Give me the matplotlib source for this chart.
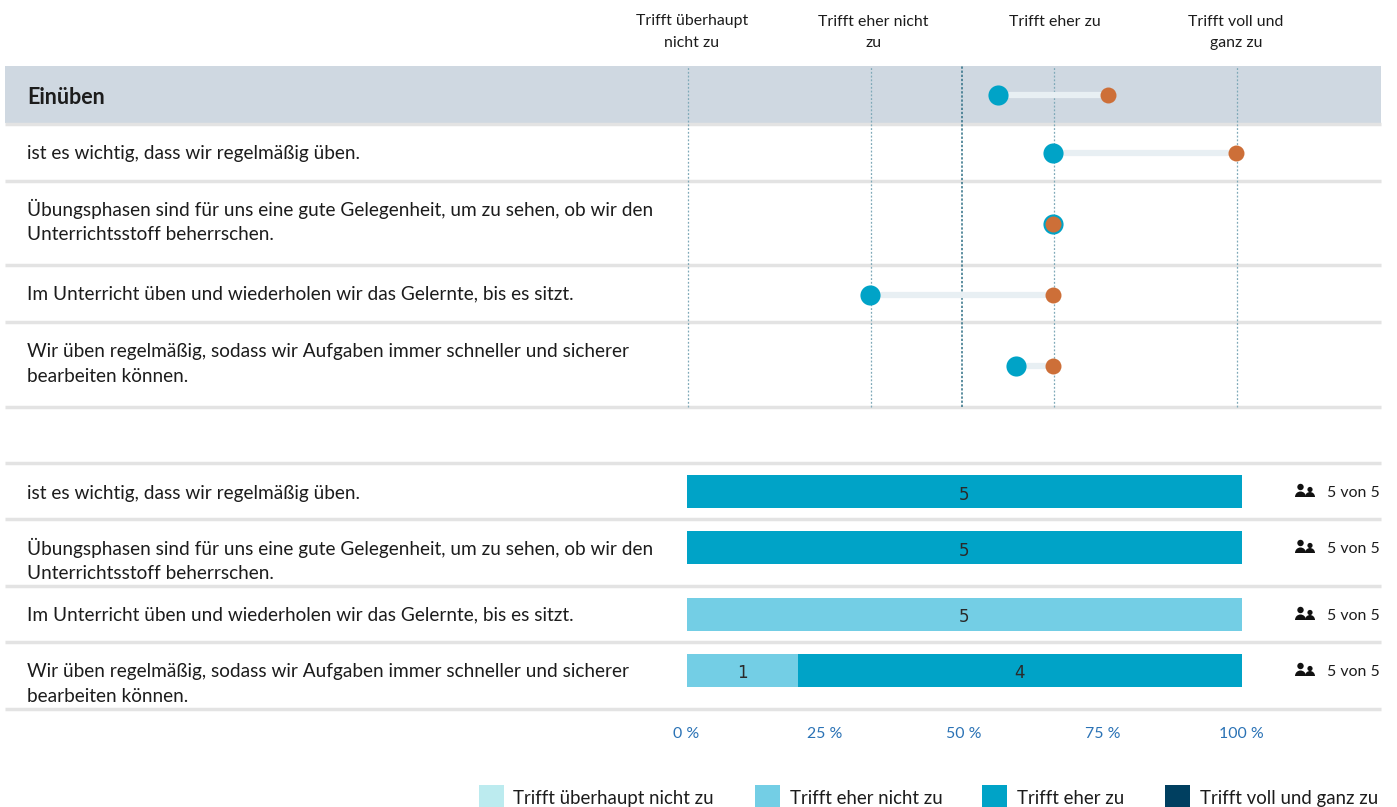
import matplotlib
matplotlib.use('Agg')
import matplotlib.pyplot as plt
import matplotlib.transforms as mtransforms
from matplotlib.patches import Circle, Rectangle, Wedge
import numpy as np

plt.rcParams['font.family'] = ['Lato', 'DejaVu Sans']

# data
scale_labels = ['Trifft überhaupt nicht zu', 'Trifft eher nicht zu', 'Trifft eher zu', 'Trifft voll und ganz zu']
scale_head = ['Trifft überhaupt\nnicht zu', 'Trifft eher nicht\nzu', 'Trifft eher zu', 'Trifft voll und\nganz zu']
section = 'Einüben'
items = ['ist es wichtig, dass wir regelmäßig üben.',
         'Übungsphasen sind für uns eine gute Gelegenheit, um zu sehen, ob wir den\nUnterrichtsstoff beherrschen.',
         'Im Unterricht üben und wiederholen wir das Gelernte, bis es sitzt.',
         'Wir üben regelmäßig, sodass wir Aufgaben immer schneller und sicherer\nbearbeiten können.']
blue_vals = [2.7, 3.0, 3.0, 2.0, 2.8]     # section mean first
orange_vals = [3.3, 4.0, 3.0, 3.0, 3.0]
counts = [[0, 0, 5, 0],
          [0, 0, 5, 0],
          [0, 5, 0, 0],
          [0, 1, 4, 0]]
answered = [5, 5, 5, 5]
pct_ticks = [0, 25, 50, 75, 100]

# colours
scale_colors = ['#bcebef', '#73cee5', '#00a3c7', '#003f60']
blue = '#00a3c7'
orange = '#cd6f38'
txt = '#1c1c1c'
rule = '#e3e3e3'

W, H = 1397, 807
fig = plt.figure(figsize=(W / 100, H / 100), dpi=100)

# background layer in pixels, for rows, rules and texts
bg = fig.add_axes([0, 0, 1, 1])
bg.set_xlim(0, W)
bg.set_ylim(H, 0)
bg.axis('off')

def sub_axes(x0, x1, y0, y1):
    a = fig.add_axes([x0 / W, 1 - y1 / H, (x1 - x0) / W, (y1 - y0) / H])
    a.patch.set_alpha(0)
    a.axis('off')
    return a

# top rows
bg.add_patch(Rectangle((5, 66), 1376, 57, color='#cfd8e1', lw=0))
for y in [124, 181, 265, 322, 407]:
    bg.plot([5, 1381], [y, y], color=rule, lw=2.5, solid_capstyle='butt')
for y in [463, 519, 586, 642, 709]:
    bg.plot([5, 1381], [y, y], color=rule, lw=2.5, solid_capstyle='butt')

bg.text(27, 97, section, fontsize=15.5, fontweight='bold', color=txt, va='center')
top_y = [153, 221, 294, 364]
bot_y = [493, 560, 615, 684]
for t, y in zip(items, top_y):
    bg.text(27, y, t, fontsize=13.7, color=txt, va='center', linespacing=1.52)
for t, y in zip(items, bot_y):
    bg.text(27, y, t, fontsize=13.7, color=txt, va='center', linespacing=1.52)

for t, x in zip(scale_head, [692, 873.5, 1054.5, 1236]):
    bg.text(x, 14.5, t, fontsize=11.4, color=txt, ha='center', va='top', linespacing=1.72)

# dumbbell panel, x axis is the answer scale 1..4
dot = sub_axes(688, 1237, 66, 407)
dot.set_xlim(1, 4)
dot.set_ylim(407, 66)
dot_y = [95, 153, 224, 295, 366]
for v in [1, 2, 3, 4]:
    dot.axvline(v, color='#7fa9b8', lw=0.9, ls=(0, (1.5, 1.5)), clip_on=False)
dot.axvline(2.5, color='#2f6f85', lw=1.1, ls=(0, (1.5, 1.2)))
# marks sit one pixel left of the grid lines
nudged = mtransforms.offset_copy(dot.transData, fig=fig, x=-1, y=0, units='dots')
for b, o, y in zip(blue_vals, orange_vals, dot_y):
    if o - b > 0:
        dot.plot([b + 0.065, o - 0.045], [y, y], color='#e8eff3', lw=4.5, solid_capstyle='round',
                 zorder=2, transform=nudged)
    dot.plot(b, y, 'o', color=blue, ms=14.5, mew=0, zorder=3, clip_on=False, transform=nudged)
    dot.plot(o, y, 'o', color=orange, ms=11.5, mew=0, zorder=4, clip_on=False, transform=nudged)

# stacked bars
bars = sub_axes(687, 1242, 463, 709)
bars.set_xlim(0, 100)
bars.set_ylim(709, 463)
bar_y = [491, 547, 614, 670]
for row, y in zip(counts, bar_y):
    total = sum(row)
    left = 0
    for c, col in zip(row, scale_colors):
        if c == 0:
            continue
        w = 100 * c / total
        bars.barh(y, w, left=left, height=33, color=col, lw=0)
        bars.text(left + w / 2 - 0.1, y + 3.5, str(c), ha='center', va='center', fontsize=12, color='#2a2a2a',
                  family='DejaVu Sans')
        left += w
for p in pct_ticks:
    bars.text(p - 0.15, 734.5, '%d %%' % p, ha='center', va='center', fontsize=11.4, color='#2a72b5', clip_on=False)

# respondents, icon plus count
for n, row, y in zip(answered, counts, bar_y):
    bg.add_patch(Circle((1300.5, y - 4), 3.2, color='#111111', lw=0))
    bg.add_patch(Wedge((1300.5, y + 6), 5.5, 180, 360, color='#111111', lw=0))
    bg.add_patch(Circle((1310, y - 1.5), 2.6, color='#111111', lw=0))
    bg.add_patch(Wedge((1310, y + 6), 5, 180, 360, color='#111111', lw=0))
    bg.text(1380, y + 2, '%d von %d' % (sum(row), n), fontsize=11.4, color=txt, ha='right', va='center')

# legend, cut at the lower edge as in the page
for t, c, px, tx in zip(scale_labels, scale_colors, [479, 755, 982, 1165], [513, 790, 1017, 1200]):
    bg.add_patch(Rectangle((px, 785), 25, 24, color=c, lw=0))
    bg.text(tx, 798.5, t, fontsize=13.4, color=txt, va='center')

fig.savefig('out.png', dpi=100)
